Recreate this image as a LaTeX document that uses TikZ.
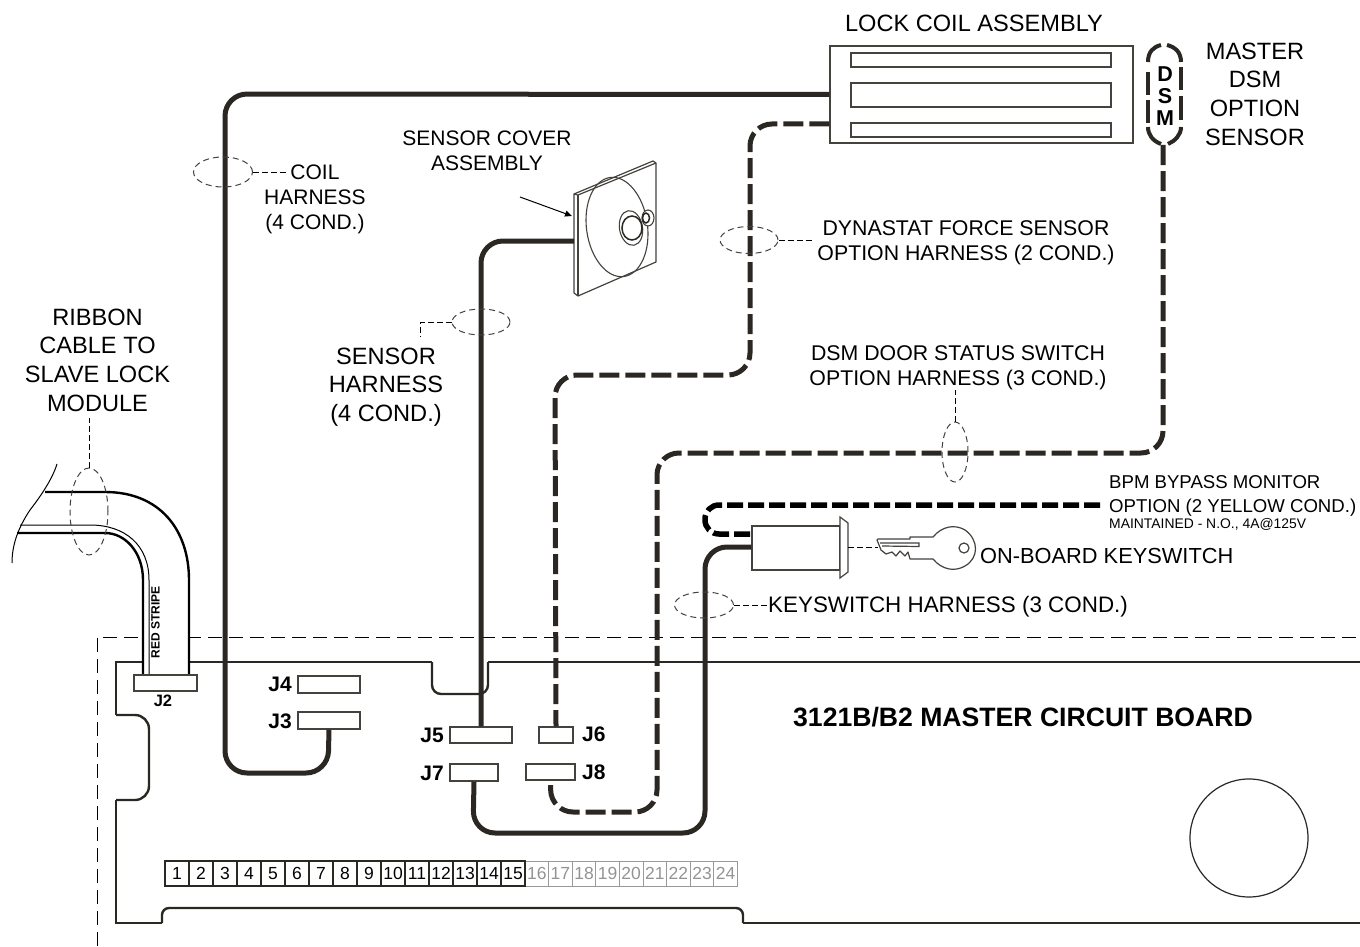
\documentclass[tikz,border=0pt]{standalone}
\usepackage{fontspec}
\setmainfont{Liberation Sans}
\usetikzlibrary{shapes.geometric,arrows.meta}
\definecolor{ink}{HTML}{2B2722}
\definecolor{edge}{HTML}{45423E}
\newcommand{\fs}[2]{\fontsize{#1}{#2}\selectfont}
\tikzset{
  x=1pt,y=-1pt,
  wire/.style={draw=ink,line width=5pt},
  dwire/.style={draw=ink,line width=5pt,dash pattern=on 20pt off 6pt},
  kwire/.style={draw=black,line width=5.5pt,dash pattern=on 16pt off 5pt},
  conn/.style={draw=edge,fill=white,line width=1.5pt,inner sep=0pt,rectangle},
  part/.style={draw=edge,line width=1.2pt},
  harness/.style={draw=edge,ellipse,dash pattern=on 6pt off 4pt,line width=1pt,inner sep=0pt},
  lead/.style={draw=black,line width=1pt,dash pattern=on 6pt off 3pt},
  lab/.style={align=center,inner sep=0pt,font=\fs{21.3}{25}},
  slab/.style={align=center,inner sep=0pt,font=\fs{21}{25}},
  biglab/.style={align=center,inner sep=0pt,font=\fs{23.6}{28.7}},
  jlab/.style={inner sep=0pt,font=\bfseries\fs{21}{25}},
  cell/.style={draw=ink,line width=2.4pt},
  gcell/.style={draw=gray!80,line width=1pt},
  dsmseg/.style={draw=ink,line width=4pt},
  dsmlet/.style={inner sep=0pt,font=\bfseries\fs{21.5}{22}},
}
\begin{document}
\begin{tikzpicture}
\useasboundingbox (0,0) rectangle (1360,947);
% enclosure dashed outline
\draw[draw=black,line width=1pt,dash pattern=on 14pt off 7pt] (97,946) -- (97,637) -- (1360,637);
% board outline
\draw[draw=ink,line width=2.4pt,line join=miter]
  (488,662) -- (1360,662);
\draw[draw=ink,line width=2.4pt,rounded corners=9pt]
  (488,662) -- (488,694) -- (432,694) -- (432,662);
\draw[draw=ink,line width=2.4pt]
  (432,662) -- (116,662) -- (116,715);
\draw[draw=ink,line width=2.4pt,rounded corners=14pt]
  (116,715) -- (149,715) -- (149,800) -- (116,800);
\draw[draw=ink,line width=2.4pt] (116,800) -- (116,923) -- (162,923);
\draw[draw=ink,line width=2.4pt,rounded corners=7pt]
  (162,923) -- (162,908) -- (743,908) -- (743,923);
\draw[draw=ink,line width=2.4pt] (743,923) -- (1360,923);
\node[draw=ink,line width=1.2pt,circle,minimum size=118pt,inner sep=0pt] (hole) at (1249,838) {};
% ribbon cable
\fill[white] (45,492) -- (105,492) .. controls (160,492) and (189,530) .. (189,580) -- (189,676) -- (143,676) -- (143,580) .. controls (143,552) and (125,533) .. (105,533) -- (17,533) -- cycle;
\draw[draw=black,line width=2.4pt] (45,492) -- (105,492) .. controls (160,492) and (189,530) .. (189,580) -- (189,676);
\draw[draw=black,line width=2.4pt] (17,533) -- (105,533) .. controls (125,533) and (143,552) .. (143,580) -- (143,676);
\draw[draw=black,line width=1pt] (20,525) -- (90,525) .. controls (125,525) and (149,545) .. (149,580) -- (149,676);
\draw[draw=black,line width=1pt] (57,464) .. controls (52,480) and (40,497) .. (30,510) .. controls (18,528) and (12,545) .. (12,563);
\node[rotate=90,inner sep=0pt,font=\bfseries\fs{12}{13}] (stripe) at (155.5,622.5) {RED STRIPE};
% connectors
\node[conn,minimum width=63pt,minimum height=16pt] (J2) at (165.5,683) {};
\node[conn,minimum width=62pt,minimum height=17pt] (J4) at (329,684.5) {};
\node[conn,minimum width=62pt,minimum height=17pt] (J3) at (329,720.5) {};
\node[conn,minimum width=62pt,minimum height=16pt] (J5) at (481,735) {};
\node[conn,minimum width=34pt,minimum height=16pt] (J6) at (556,735) {};
\node[conn,minimum width=48pt,minimum height=17pt] (J7) at (474,772.5) {};
\node[conn,minimum width=49pt,minimum height=16pt] (J8) at (550.5,772) {};
\node[jlab,font=\bfseries\fs{16.5}{18}] (J2t) at (163,701) {J2};
\node[jlab,anchor=east] (J4t) at (292,684) {J4};
\node[jlab,anchor=east] (J3t) at (292,721) {J3};
\node[jlab,anchor=east] (J5t) at (444,735) {J5};
\node[jlab,anchor=west] (J6t) at (582,734) {J6};
\node[jlab,anchor=east] (J7t) at (444,773) {J7};
\node[jlab,anchor=west] (J8t) at (582,772) {J8};
\node[inner sep=0pt,font=\bfseries\fs{26.6}{30}] (board) at (1023,717) {3121B/B2 MASTER CIRCUIT BOARD};
% terminal strip
\foreach \i in {16,...,24}{
  \node[gcell,minimum width=23.6pt,minimum height=25pt,inner sep=0pt,text=gray!85,font=\fs{17.5}{20}] (t\i) at ({525+23.6*(\i-15.5)},873.5) {\i};
}
\foreach \i in {1,...,15}{
  \node[cell,minimum width=24pt,minimum height=25pt,inner sep=0pt,text=black,font=\fs{17.5}{20}] (t\i) at ({165+24*(\i-0.5)},873.5) {\i};
}
% lock coil
\node[draw=edge,line width=1.1pt,fill=white,minimum width=303pt,minimum height=97pt,inner sep=0pt] (lock) at (981.5,94.5) {};
\node[part,minimum width=260pt,minimum height=14pt,inner sep=0pt] (slotA) at (981,60) {};
\node[part,minimum width=260pt,minimum height=24pt,inner sep=0pt] (slotB) at (981,95) {};
\node[part,minimum width=260pt,minimum height=14pt,inner sep=0pt] (slotC) at (981,130) {};
\coordinate (lockdyn) at (lock.west |- 0,124);
\node[biglab] (locklab) at (974,23) {LOCK COIL ASSEMBLY};
% DSM sensor
\draw[dsmseg] (1148,62) .. controls (1148,52) and (1153,47) .. (1161,45);
\draw[dsmseg] (1167,45) .. controls (1175,47) and (1181,52) .. (1181,62);
\draw[dsmseg] (1148,72) -- (1148,95);
\draw[dsmseg] (1148,100) -- (1148,123);
\draw[dsmseg] (1181,67) -- (1181,90);
\draw[dsmseg] (1181,96) -- (1181,120);
\draw[dsmseg] (1148,127) .. controls (1148,135) and (1153,141) .. (1161,144);
\draw[dsmseg] (1181,127) .. controls (1181,135) and (1175,141) .. (1168,144);
\coordinate (dsmb) at (1163,145);
\node[dsmlet] (dsmD) at (1165,74.5) {D};
\node[dsmlet] (dsmS) at (1165,96) {S};
\node[dsmlet] (dsmM) at (1165,118) {M};
\node[biglab] (dsmlab) at (1255,94) {MASTER\\DSM\\OPTION\\SENSOR};
% sensor cover
\draw[part,fill=white,line join=round] (574,194) -- (653,161) -- (656,163) -- (656,262) -- (578,296) -- (574,293) -- cycle;
\draw[part] (574,194) -- (578,195) -- (656,163);
\draw[part] (578,195) -- (578,296);
\node[draw=edge,line width=1.1pt,ellipse,minimum width=61pt,minimum height=100pt,inner sep=0pt,rotate=8] (cover) at (617,227) {};
\node[draw=edge,line width=1.1pt,ellipse,minimum width=23pt,minimum height=35pt,inner sep=0pt,rotate=10] (covera) at (631,228) {};
\node[draw=ink,line width=1.5pt,ellipse,minimum width=20pt,minimum height=24pt,inner sep=0pt,fill=white] (coverb) at (632,228) {};
\node[draw=edge,line width=1.1pt,ellipse,minimum width=12pt,minimum height=16pt,inner sep=0pt,fill=white] (knob) at (648,218) {};
\node[draw=ink,line width=1.5pt,ellipse,minimum width=7pt,minimum height=10pt,inner sep=0pt] (knobb) at (646,218) {};
\coordinate (coverw) at (574,241);
\coordinate (arrowtip) at (572,216);
\node[slab] (coverlab) at (487,151) {SENSOR COVER\\ASSEMBLY};
\coordinate (arrowtail) at (520,197);
\draw[draw=black,line width=1pt,-{Triangle[length=7pt,width=6pt]}] (arrowtail) -- (arrowtip);
% keyswitch
\node[part,fill=white,minimum width=88pt,minimum height=44pt,inner sep=0pt] (sw) at (796,548) {};
\draw[part,fill=white] (840,517) -- (848,523) -- (848,572) -- (840,578) -- cycle;
\coordinate (swt) at (sw.west |- 0,534);
\coordinate (swb) at (sw.west |- 0,547);
\coordinate (swf) at (848,547);
% key
\draw[part,fill=white,line join=round] (877,540) -- (878,539) -- (910,539) -- (910,537) -- (933,537) .. controls (942,526) and (955,524) .. (965,530) .. controls (979,540) and (979,558) .. (965,566) .. controls (955,572) and (942,570) .. (933,559) -- (910,559) -- (908,552) -- (905,556) -- (900,551) -- (896,556) -- (892,552) -- (886,554) -- (881,550) -- cycle;
\draw[part] (880,543) -- (919,543) -- (919,546.5) -- (882,546);
\node[part,circle,minimum size=10pt,inner sep=0pt] (keyhole) at (964,548) {};
\coordinate (keytip) at (878,547);
\draw[lead] (swf) -- (keytip);
% wires
\draw[wire,rounded corners=22pt] (lock.west) -- (225,94) -- (225,773) -- (328,773) -- (J3.south);
\draw[wire,rounded corners=22pt] (coverw) -- (481,241) -- (J5.north);
\draw[dwire,rounded corners=22pt] (lockdyn) -- (750,124) -- (750,375) -- (555,375) -- (J6.north);
\draw[dwire,rounded corners=22pt] (dsmb) -- (1163,453) -- (657,453) -- (657,812) -- (551,812) -- (J8.south);
\draw[wire,rounded corners=22pt] (swb) -- (705,547) -- (705,833) -- (473,833) -- (J7.south);
\coordinate (bpm) at (1100,505);
\draw[kwire,rounded corners=14pt] (bpm) -- (705,505) -- (705,534) -- (swt);
% harness marks and labels
\node[harness,minimum width=59pt,minimum height=30pt] (hcoil) at (223,172) {};
\node[slab,anchor=north] (coillab) at (315,165) {COIL\\HARNESS\\(4 COND.)};
\coordinate (coilend) at (288,172);
\draw[lead] (hcoil.east) -- (coilend);
\node[harness,minimum width=58pt,minimum height=26pt] (hsens) at (481,322) {};
\node[biglab] (senslab) at (386,387) {SENSOR\\HARNESS\\(4 COND.)};
\coordinate (sensbend) at (420,322);
\coordinate (sensend) at (420,336);
\draw[lead] (hsens.west) -- (sensbend) -- (sensend);
\node[harness,minimum width=58pt,minimum height=27pt] (hdyn) at (749,240) {};
\node[lab] (dynlab) at (966,243) {DYNASTAT FORCE SENSOR\\OPTION HARNESS (2 COND.)};
\coordinate (dynend) at (812,240);
\draw[lead] (hdyn.east) -- (dynend);
\node[harness,minimum width=26pt,minimum height=60pt] (hdsm) at (955,452) {};
\node[lab] (dsmhlab) at (958,367.5) {DSM DOOR STATUS SWITCH\\OPTION HARNESS (3 COND.)};
\coordinate (dsmend) at (955,390);
\draw[lead] (hdsm.north) -- (dsmend);
\node[harness,minimum width=38pt,minimum height=87pt] (hrib) at (89,511.5) {};
\node[biglab] (riblab) at (97.5,360) {RIBBON\\CABLE TO\\SLAVE LOCK\\MODULE};
\coordinate (ribend) at (89,418);
\draw[lead] (hrib.north) -- (ribend);
\node[harness,minimum width=59pt,minimum height=26pt] (hkey) at (704,605) {};
\node[inner sep=0pt,anchor=west,font=\fs{22.4}{26}] (keylab) at (768,607) {KEYSWITCH HARNESS (3 COND.)};
\coordinate (keylead) at (767,605);
\draw[lead] (hkey.east) -- (keylead);
\node[inner sep=0pt,anchor=west,font=\fs{21.8}{26}] (onboard) at (980,555.5) {ON-BOARD KEYSWITCH};
\node[inner sep=0pt,anchor=west,align=left,font=\fs{18.6}{24}] (bpmlab) at (1109,495.5) {BPM BYPASS MONITOR\\OPTION (2 YELLOW COND.)};
\node[inner sep=0pt,anchor=west,font=\fs{13.9}{14}] (mnt) at (1109,524) {MAINTAINED - N.O., 4A@125V};
\end{tikzpicture}
\end{document}
